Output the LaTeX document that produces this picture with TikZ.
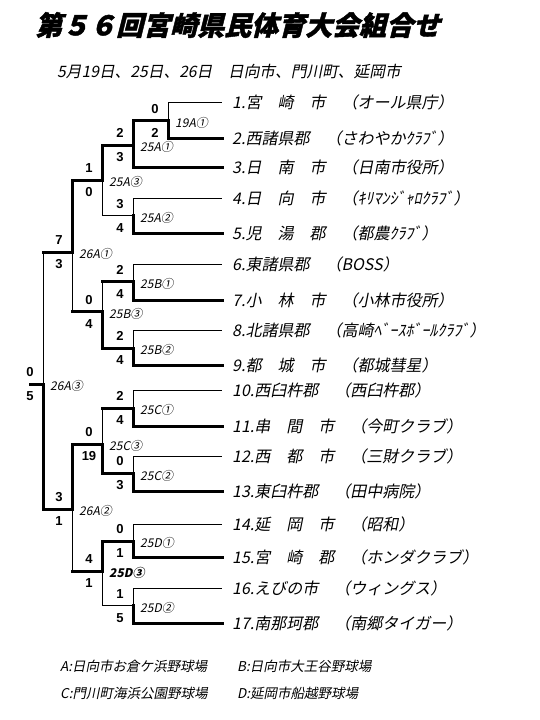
\documentclass[tikz,border=0pt]{standalone}
\usepackage{fontspec}
\newfontfamily\jpfont[FakeSlant=0.2]{Noto Sans CJK JP}
\newfontfamily\titlefont[FakeSlant=0.25,FakeBold=1.5]{Noto Sans CJK JP}
\newfontfamily\scorefont{Liberation Sans}
\begin{document}
\begin{tikzpicture}[
	x=1pt, y=-1pt,
	thin line/.style={line width=1pt},
	win line/.style={line width=3pt, line cap=rect},
	team node/.style={anchor=west, inner sep=0pt, font=\jpfont\fontsize{16}{16}\selectfont},
	score node/.style={inner sep=0pt, font=\scorefont\bfseries\fontsize{13}{13}\selectfont},
	game node/.style={anchor=west, inner sep=0pt, font=\jpfont\fontsize{12}{12}\selectfont},
	head node/.style={anchor=west, inner sep=0pt}
	]
	\newcommand{\game}[9]{
		\draw[#4] (#1) -- (#1 |- #2);
		\draw[#5] (#1) -- (#1 |- #3);
		\node[score node] (#1-up) at ([shift={(-13,-12)}]#1) {#6};
		\node[score node] (#1-dn) at ([shift={(-13,12)}]#1) {#7};
		\node[game node, #9] (#1-lbl) at ([shift={(7,2)}]#1) {#8};
	}
	\fill[white] (0,0) rectangle (540,720);
	\useasboundingbox (0,0) rectangle (540,720);
	
	% headings
	\node[head node, font=\titlefont\bfseries\fontsize{27}{27}\selectfont] (title) at (35,25) {第５６回宮崎県民体育大会組合せ};
	\node[head node, font=\jpfont\fontsize{15.7}{16}\selectfont] (dates) at (57,72) {5月19日、25日、26日　日向市、門川町、延岡市};
	
	% game junctions
	\coordinate (g19A1) at (168,120.7);
	\coordinate (g25A1) at (133,145);
	\coordinate (g25A2) at (133,215.7);
	\coordinate (g25A3) at (102,180);
	\coordinate (g25B1) at (133,281.7);
	\coordinate (g25B2) at (133,348);
	\coordinate (g25B3) at (102,311.7);
	\coordinate (g26A1) at (72,252);
	\coordinate (g25C1) at (133,408.3);
	\coordinate (g25C2) at (133,473.5);
	\coordinate (g25C3) at (102,444);
	\coordinate (g25D1) at (133,541);
	\coordinate (g25D2) at (133,605.7);
	\coordinate (g25D3) at (102,571);
	\coordinate (g26A2) at (72,509);
	\coordinate (g26A3) at (43,384);
	\coordinate (champ) at (30,384);
	
	% teams
	\node[team node] (t1) at (232,102.7) {1.宮　崎　市　（オール県庁）};
	\node[team node] (t2) at (232,138.3) {2.西諸県郡　（さわやかｸﾗﾌﾞ）};
	\node[team node] (t3) at (232,167.7) {3.日　南　市　（日南市役所）};
	\node[team node] (t4) at (232,198.3) {4.日　向　市　（ｷﾘﾏﾝｼﾞｬﾛｸﾗﾌﾞ）};
	\node[team node] (t5) at (232,233.3) {5.児　湯　郡　（都農ｸﾗﾌﾞ）};
	\node[team node] (t6) at (232,264) {6.東諸県郡　（BOSS）};
	\node[team node] (t7) at (232,300) {7.小　林　市　（小林市役所）};
	\node[team node] (t8) at (232,330.7) {8.北諸県郡　（高崎ﾍﾞｰｽﾎﾞｰﾙｸﾗﾌﾞ）};
	\node[team node] (t9) at (232,365) {9.都　城　市　（都城彗星）};
	\node[team node] (t10) at (232,390.7) {10.西臼杵郡　（西臼杵郡）};
	\node[team node] (t11) at (232,426) {11.串　間　市　（今町クラブ）};
	\node[team node] (t12) at (232,456.7) {12.西　都　市　（三財クラブ）};
	\node[team node] (t13) at (232,491.5) {13.東臼杵郡　（田中病院）};
	\node[team node] (t14) at (232,524.3) {14.延　岡　市　（昭和）};
	\node[team node] (t15) at (232,557.5) {15.宮　崎　郡　（ホンダクラブ）};
	\node[team node] (t16) at (232,588.5) {16.えびの市　（ウィングス）};
	\node[team node] (t17) at (232,623) {17.南那珂郡　（南郷タイガー）};
	
	% team lines
	\draw[thin line] (g19A1 |- t1.west) -- ([xshift=-10pt]t1.west);
	\draw[win line] (g19A1 |- t2.west) -- ([xshift=-10pt]t2.west);
	\draw[win line] (g25A1 |- t3.west) -- ([xshift=-10pt]t3.west);
	\draw[thin line] (g25A2 |- t4.west) -- ([xshift=-10pt]t4.west);
	\draw[win line] (g25A2 |- t5.west) -- ([xshift=-10pt]t5.west);
	\draw[thin line] (g25B1 |- t6.west) -- ([xshift=-10pt]t6.west);
	\draw[win line] (g25B1 |- t7.west) -- ([xshift=-10pt]t7.west);
	\draw[thin line] (g25B2 |- t8.west) -- ([xshift=-10pt]t8.west);
	\draw[win line] (g25B2 |- t9.west) -- ([xshift=-10pt]t9.west);
	\draw[thin line] (g25C1 |- t10.west) -- ([xshift=-10pt]t10.west);
	\draw[win line] (g25C1 |- t11.west) -- ([xshift=-10pt]t11.west);
	\draw[thin line] (g25C2 |- t12.west) -- ([xshift=-10pt]t12.west);
	\draw[win line] (g25C2 |- t13.west) -- ([xshift=-10pt]t13.west);
	\draw[thin line] (g25D1 |- t14.west) -- ([xshift=-10pt]t14.west);
	\draw[win line] (g25D1 |- t15.west) -- ([xshift=-10pt]t15.west);
	\draw[thin line] (g25D2 |- t16.west) -- ([xshift=-10pt]t16.west);
	\draw[win line] (g25D2 |- t17.west) -- ([xshift=-10pt]t17.west);
	
	% games: junction, upper, lower, styles, scores, label
	\game{g19A1}{t1.west}{t2.west}{thin line}{win line}{0}{2}{19A①}{}
	\game{g25A1}{g19A1}{t3.west}{win line}{win line}{2}{3}{25A①}{}
	\game{g25A2}{t4.west}{t5.west}{thin line}{win line}{3}{4}{25A②}{}
	\game{g25A3}{g25A1}{g25A2}{win line}{thin line}{1}{0}{25A③}{}
	\game{g25B1}{t6.west}{t7.west}{thin line}{win line}{2}{4}{25B①}{}
	\game{g25B2}{t8.west}{t9.west}{thin line}{win line}{2}{4}{25B②}{}
	\game{g25B3}{g25B1}{g25B2}{thin line}{win line}{0}{4}{25B③}{}
	\game{g26A1}{g25A3}{g25B3}{win line}{thin line}{7}{3}{26A①}{}
	\game{g25C1}{t10.west}{t11.west}{thin line}{win line}{2}{4}{25C①}{}
	\game{g25C2}{t12.west}{t13.west}{thin line}{win line}{0}{3}{25C②}{}
	\game{g25C3}{g25C1}{g25C2}{thin line}{win line}{0}{19}{25C③}{}
	\game{g25D1}{t14.west}{t15.west}{thin line}{win line}{0}{1}{25D①}{}
	\game{g25D2}{t16.west}{t17.west}{thin line}{win line}{1}{5}{25D②}{}
	\game{g25D3}{g25D1}{g25D2}{win line}{thin line}{4}{1}{25D③}{font=\jpfont\bfseries\fontsize{12}{12}\selectfont}
	\game{g26A2}{g25C3}{g25D3}{win line}{thin line}{3}{1}{26A②}{}
	\game{g26A3}{g26A1}{g26A2}{thin line}{win line}{0}{5}{26A③}{}
	
	% winners move on
	\draw[win line] (g19A1) -- (g25A1 |- g19A1);
	\draw[win line] (g25A1) -- (g25A3 |- g25A1);
	\draw[thin line] (g25A2) -- (g25A3 |- g25A2);
	\draw[win line] (g25A3) -- (g26A1 |- g25A3);
	\draw[win line] (g25B1) -- (g25B3 |- g25B1);
	\draw[win line] (g25B2) -- (g25B3 |- g25B2);
	\draw[win line] (g25B3) -- (g26A1 |- g25B3);
	\draw[win line] (g26A1) -- (g26A3 |- g26A1);
	\draw[win line] (g25C1) -- (g25C3 |- g25C1);
	\draw[win line] (g25C2) -- (g25C3 |- g25C2);
	\draw[win line] (g25C3) -- (g26A2 |- g25C3);
	\draw[win line] (g25D1) -- (g25D3 |- g25D1);
	\draw[thin line] (g25D2) -- (g25D3 |- g25D2);
	\draw[win line] (g25D3) -- (g26A2 |- g25D3);
	\draw[win line] (g26A2) -- (g26A3 |- g26A2);
	\draw[win line] (g26A3) -- (champ);
	
	% grounds
	\node[head node, font=\jpfont\fontsize{13.5}{14}\selectfont] (siteA) at (60,666.7) {A:日向市お倉ケ浜野球場};
	\node[head node, font=\jpfont\fontsize{13.5}{14}\selectfont] (siteB) at (237,666.7) {B:日向市大王谷野球場};
	\node[head node, font=\jpfont\fontsize{13.5}{14}\selectfont] (siteC) at (60,693) {C:門川町海浜公園野球場};
	\node[head node, font=\jpfont\fontsize{13.5}{14}\selectfont] (siteD) at (237,693) {D:延岡市船越野球場};
\end{tikzpicture}
\end{document}
